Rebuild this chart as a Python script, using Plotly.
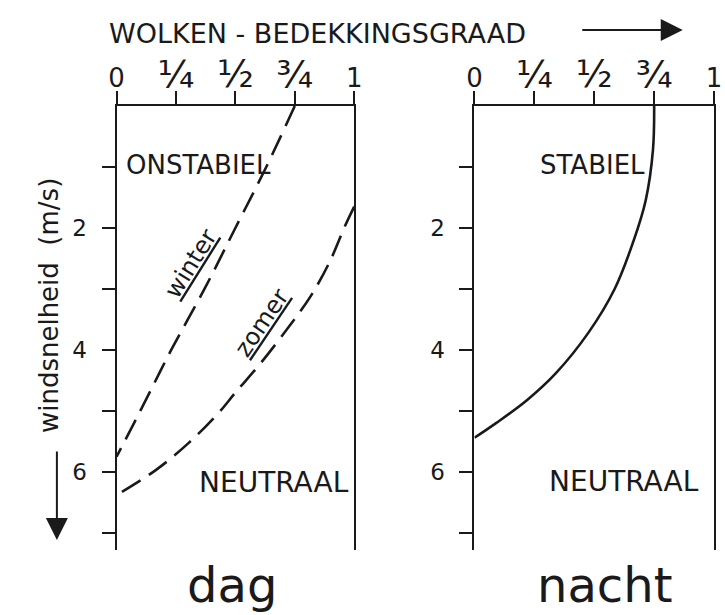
import plotly.graph_objects as go

# ---- data ----
cloud_ticks = [0, 0.25, 0.5, 0.75, 1]
cloud_tick_labels = ["0", "¼", "½", "¾", "1"]
wind_ticks = [1, 2, 3, 4, 5, 6, 7]
wind_tick_labels = ["", "2", "", "4", "", "6", ""]

winter_wind = [0, 1, 2, 3, 4, 5, 5.75]
winter_cloud = [0.75, 0.63, 0.50, 0.37, 0.23, 0.10, 0]

zomer_wind = [1.65, 1.98, 2.57, 3.13, 3.62, 4.2, 4.7, 5.03, 5.52, 5.97, 6.38]
zomer_cloud = [1.0, 0.96, 0.895, 0.815, 0.725, 0.61, 0.50, 0.43, 0.305, 0.165, 0]

nacht_wind = [0, 0.72, 1.54, 2.2, 3.0, 3.72, 4.38, 4.82, 5.2, 5.44]
nacht_cloud = [0.75, 0.745, 0.715, 0.665, 0.585, 0.475, 0.34, 0.22, 0.09, 0]

INK = "#1a1a1a"
FONT = "DejaVu Sans"
W, H = 725, 615


def px_x(p):
    return p / W


def px_y(p):
    return 1 - p / H


fig = go.Figure()
fig.add_trace(go.Scatter(x=winter_cloud, y=winter_wind, mode="lines",
                         line=dict(color=INK, width=2.6, dash="22px,10px", shape="spline"),
                         xaxis="x", yaxis="y", showlegend=False, hoverinfo="skip"))
fig.add_trace(go.Scatter(x=zomer_cloud, y=zomer_wind, mode="lines",
                         line=dict(color=INK, width=2.6, dash="22px,10px", shape="spline"),
                         xaxis="x", yaxis="y", showlegend=False, hoverinfo="skip"))
fig.add_trace(go.Scatter(x=nacht_cloud, y=nacht_wind, mode="lines",
                         line=dict(color=INK, width=2.6, shape="spline"),
                         xaxis="x2", yaxis="y2", showlegend=False, hoverinfo="skip"))

frac_labels = [t if t in ("0", "1") else '<span style="font-size:38px">%s</span>' % t
               for t in cloud_tick_labels]

xcommon = dict(range=[0, 1], side="top", showline=True, linewidth=2, linecolor=INK,
               ticks="outside", ticklen=13, tickwidth=2, tickcolor=INK,
               tickvals=cloud_ticks, ticktext=frac_labels,
               tickfont=dict(family=FONT, size=26, color=INK),
               showgrid=False, zeroline=False, fixedrange=True, ticklabelstandoff=-6)
ycommon = dict(range=[7.28, 0], showline=True, mirror=True, linewidth=2, linecolor=INK,
               ticks="outside", ticklen=13, tickwidth=2, tickcolor=INK,
               tickvals=wind_ticks, ticktext=wind_tick_labels,
               tickfont=dict(family=FONT, size=23, color=INK),
               showgrid=False, zeroline=False, fixedrange=True, ticklabelstandoff=10,
               domain=[px_y(550), px_y(106)])

fig.update_layout(
    width=W, height=H, margin=dict(l=0, r=0, t=0, b=0),
    paper_bgcolor="white", plot_bgcolor="white",
    xaxis=dict(domain=[px_x(111), px_x(354)], anchor="y", **xcommon),
    yaxis=dict(anchor="x", **ycommon),
    xaxis2=dict(domain=[px_x(477), px_x(722)], anchor="y2", **xcommon),
    yaxis2=dict(anchor="x2", **ycommon),
)

ann = []


def txt(text, x, y, size, xref="paper", yref="paper", xanchor="center", yanchor="middle", angle=0):
    ann.append(dict(text=text, x=x, y=y, xref=xref, yref=yref, xanchor=xanchor, yanchor=yanchor,
                    textangle=angle, showarrow=False,
                    font=dict(family=FONT, size=size, color=INK)))


txt("WOLKEN - BEDEKKINGSGRAAD", px_x(101), px_y(33), 27, xanchor="left")
txt("windsnelheid  (m/s)", px_x(42), px_y(306), 26, angle=-90)
txt("ONSTABIEL", 0.03, 0.97, 26, xref="x", yref="y", xanchor="left")
txt("NEUTRAAL", 0.985, 6.18, 28, xref="x", yref="y", xanchor="right")
txt("STABIEL", 0.265, 0.97, 26, xref="x2", yref="y2", xanchor="left")
txt("NEUTRAAL", 0.945, 6.16, 28, xref="x2", yref="y2", xanchor="right")
txt("<u>winter</u>", 0.315, 2.58, 24, xref="x", yref="y", angle=-58)
txt("<u>zomer</u>", 0.61, 3.555, 24, xref="x", yref="y", angle=-56)
txt("dag", px_x(229), px_y(585), 48)
txt("nacht", px_x(610), px_y(585), 48)

# direction arrows
ann.append(dict(x=px_x(690), y=px_y(30), xref="paper", yref="paper", ax=-102, ay=0,
                text="", showarrow=True, arrowhead=2, arrowsize=2.2, arrowwidth=2, arrowcolor=INK))
ann.append(dict(x=px_x(50), y=px_y(540), xref="paper", yref="paper", ax=0, ay=-90,
                text="", showarrow=True, arrowhead=2, arrowsize=2.2, arrowwidth=2, arrowcolor=INK))

fig.update_layout(annotations=ann)
fig.write_html("out.html", config={"displayModeBar": False},
               post_script="document.body.style.margin='0';document.body.style.overflow='hidden';")
